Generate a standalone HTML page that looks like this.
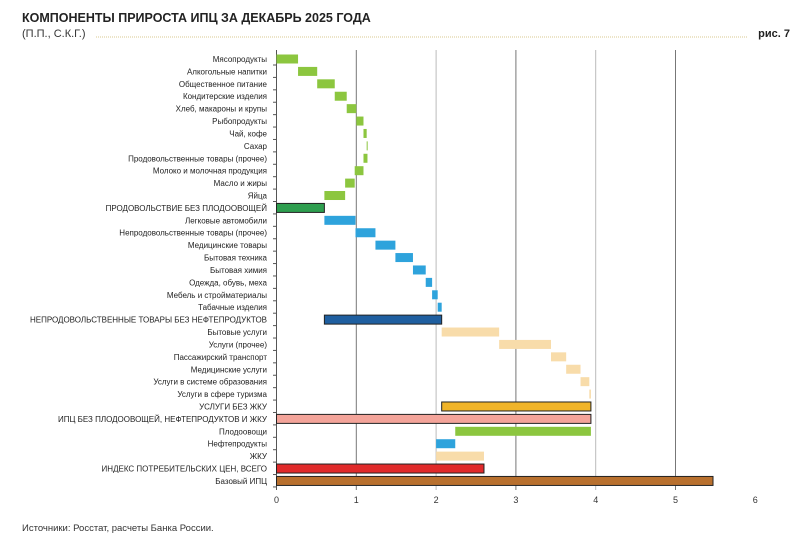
<!DOCTYPE html>
<html><head><meta charset="utf-8"><style>
body{margin:0;background:#fff;width:800px;height:543px;overflow:hidden;font-family:"Liberation Sans",sans-serif}
</style></head><body>
<svg width="800" height="543" font-family="Liberation Sans, sans-serif">
<text x="22" y="22" font-size="12.5" font-weight="bold" fill="#222">КОМПОНЕНТЫ ПРИРОСТА ИПЦ ЗА ДЕКАБРЬ 2025 ГОДА</text>
<text x="22" y="37" font-size="11" fill="#333">(П.П., С.К.Г.)</text>
<line x1="96" y1="37" x2="748" y2="37" stroke="#d8c890" stroke-width="1" stroke-dasharray="1,1"/>
<text x="790" y="37" font-size="11" font-weight="bold" text-anchor="end" fill="#222">рис. 7</text>
<g id="grid"></g><g id="bars"></g><g id="labels"></g><g id="xt"></g>
<text x="22" y="531" font-size="9.5" fill="#333">Источники: Росстат, расчеты Банка России.</text>
</svg>
<script>
const categories=["Мясопродукты","Алкогольные напитки","Общественное питание","Кондитерские изделия","Хлеб, макароны и крупы","Рыбопродукты","Чай, кофе","Сахар","Продовольственные товары (прочее)","Молоко и молочная продукция","Масло и жиры","Яйца","ПРОДОВОЛЬСТВИЕ БЕЗ ПЛОДООВОЩЕЙ","Легковые автомобили","Непродовольственные товары (прочее)","Медицинские товары","Бытовая техника","Бытовая химия","Одежда, обувь, мехa","Мебель и стройматериалы","Табачные изделия","НЕПРОДОВОЛЬСТВЕННЫЕ ТОВАРЫ БЕЗ НЕФТЕПРОДУКТОВ","Бытовые услуги","Услуги (прочее)","Пассажирский транспорт","Медицинские услуги","Услуги в системе образования","Услуги в сфере туризма","УСЛУГИ БЕЗ ЖКУ","ИПЦ БЕЗ ПЛОДООВОЩЕЙ, НЕФТЕПРОДУКТОВ И ЖКУ","Плодоовощи","Нефтепродукты","ЖКУ","ИНДЕКС ПОТРЕБИТЕЛЬСКИХ ЦЕН, ВСЕГО","Базовый ИПЦ"];
// contribution values (п.п.); for total rows the value is the total
const values=[0.27,0.24,0.22,0.15,0.12,0.09,0.04,0.01,-0.05,-0.11,-0.12,-0.26,0.60,0.39,0.25,0.25,0.22,0.16,0.08,0.07,0.05,1.47,0.72,0.65,0.19,0.18,0.11,0.02,1.87,3.94,-1.70,-0.24,0.60,2.60,5.47];
// kind: s=step, t=subtotal (continues from previous subtotal end), z=total from zero, b=independent bar
const kinds=["s","s","s","s","s","s","s","s","s","s","s","s","z","s","s","s","s","s","s","s","s","t","s","s","s","s","s","s","t","z","s","s","s","z","b"];
const colors=["#8cc63f","#8cc63f","#8cc63f","#8cc63f","#8cc63f","#8cc63f","#8cc63f","#8cc63f","#8cc63f","#8cc63f","#8cc63f","#8cc63f","#2e9e4f","#2ea3dc","#2ea3dc","#2ea3dc","#2ea3dc","#2ea3dc","#2ea3dc","#2ea3dc","#2ea3dc","#1f5fa0","#f8dcaa","#f8dcaa","#f8dcaa","#f8dcaa","#f8dcaa","#f8dcaa","#f0b429","#f4a49a","#8cc63f","#2ea3dc","#f8dcaa","#e02a2a","#b8702e"];
const xTicks=[0,1,2,3,4,5,6];
const NS="http://www.w3.org/2000/svg";
const x=v=>276.5+v*79.8;
const y=i=>59+i*12.41;
function mk(t,a,p){const e=document.createElementNS(NS,t);for(const k in a)e.setAttribute(k,a[k]);p.appendChild(e);return e;}
const grid=document.getElementById('grid'),bars=document.getElementById('bars'),labels=document.getElementById('labels'),xt=document.getElementById('xt');
xTicks.forEach((t,i)=>{
 if(t>0&&t<6){const l=mk('line',{x1:x(t),x2:x(t),y1:50,y2:490,stroke:(t%2)?'#777':'#bbb','stroke-width':1},grid);
 
 }
 const tx=mk('text',{x:x(t),y:503,'font-size':9,'text-anchor':'middle',fill:'#333'},xt);tx.textContent=t;
 
 
});
const ax=mk('line',{x1:276.5,x2:276.5,y1:50,y2:490,stroke:'#555','stroke-width':1},grid);


let cum=0,segStart=0;
categories.forEach((c,i)=>{
 const v=values[i],k=kinds[i];let a,b;
 if(k==='s'){a=cum;b=cum+v;cum=b;}
 else if(k==='t'){a=segStart;b=segStart+v;cum=b;segStart=b;}
 else if(k==='z'){a=0;b=v;cum=b;segStart=b;}
 else {a=0;b=v;}
 const yc=y(i);
 const tk=mk('line',{x1:273,x2:276.5,y1:yc+6,y2:yc+6,stroke:'#555'},grid);
 
 
 const lo=Math.min(a,b),hi=Math.max(a,b);
 const tot=k!=='s';
 const r=mk('rect',{x:x(lo),y:yc-4.5,width:Math.max(x(hi)-x(lo),1),height:9,fill:colors[i]},bars);
 if(tot){r.setAttribute('stroke','#222');r.setAttribute('stroke-width','1');}
 
 
 const t=mk('text',{x:267,y:yc+3,'font-size':8,'text-anchor':'end',fill:'#222'},labels);
 t.textContent=c;
 
 
});
</script>
</body></html>
